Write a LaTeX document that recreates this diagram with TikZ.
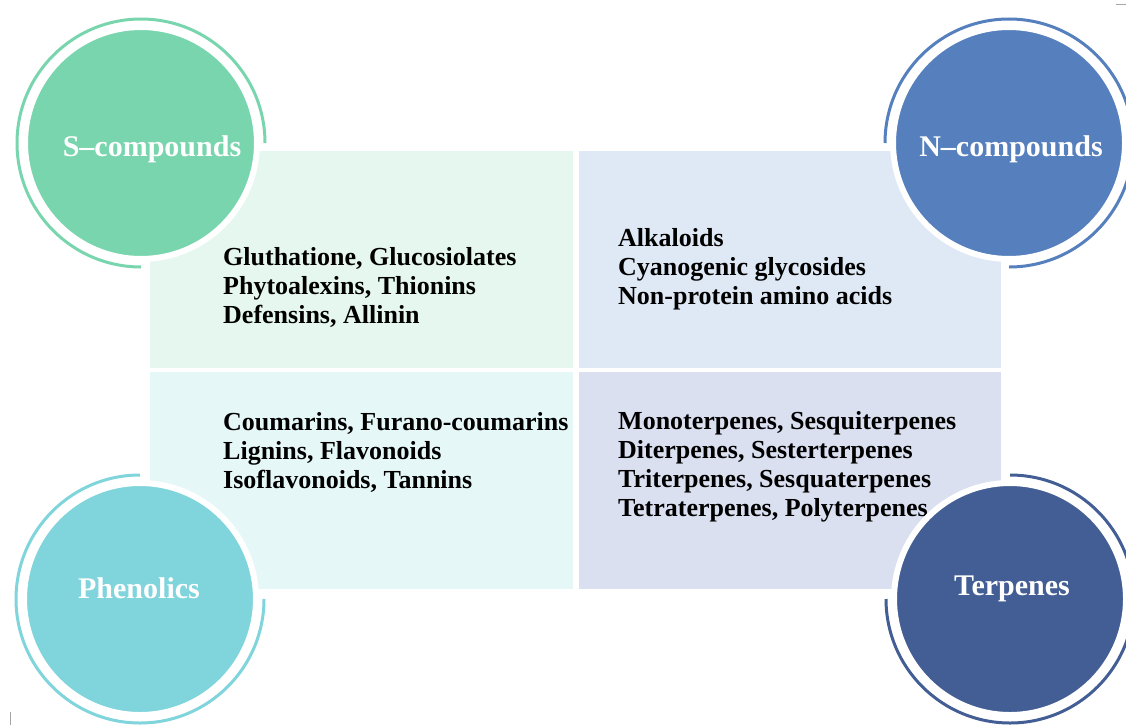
\documentclass[tikz,border=0pt]{standalone}
\usepackage{fontspec}
\setmainfont{Liberation Serif}
\usetikzlibrary{positioning}
\definecolor{sgreen}{RGB}{121,213,174}
\definecolor{nblue}{RGB}{85,127,189}
\definecolor{pcyan}{RGB}{128,212,220}
\definecolor{tblue}{RGB}{67,94,148}
\definecolor{sbg}{RGB}{230,247,239}
\definecolor{nbg}{RGB}{223,232,245}
\definecolor{pbg}{RGB}{230,247,248}
\definecolor{tbg}{RGB}{219,224,240}
\tikzset{
  box/.style={anchor=north west, inner sep=0pt, minimum width=423pt, minimum height=217pt},
  list/.style={anchor=west, inner sep=0pt, align=left, font=\bfseries\fontsize{26}{29}\selectfont},
  disc/.style={circle, draw=white, line width=6pt, inner sep=0pt, minimum size=232pt},
  ring/.style={line width=3pt},
  title/.style={inner sep=0pt, text=white, font=\bfseries\fontsize{30}{34}\selectfont}
}

\begin{document}
\begin{tikzpicture}[x=1pt,y=-1pt]
	\useasboundingbox (0,0) rectangle (1126,725);

	% four boxes
	\node [box, fill=sbg] (sbox) at (150,151) {};
	\node [box, fill=nbg, minimum width=422pt] (nbox) at (579,151) {};
	\node [box, fill=pbg] (pbox) at (150,372) {};
	\node [box, fill=tbg, minimum width=422pt] (tbox) at (579,372) {};

	\node [list] (slist) at (223,287) {Gluthatione, Glucosiolates\\Phytoalexins, Thionins\\Defensins, Allinin};
	\node [list] (nlist) at (618,269) {Alkaloids\\Cyanogenic glycosides\\Non-protein amino acids};
	\node [list] (plist) at (223,452) {Coumarins, Furano-coumarins\\Lignins, Flavonoids\\Isoflavonoids, Tannins};
	\node [list] (tlist) at (618,466.5) {Monoterpenes, Sesquiterpenes\\Diterpenes, Sesterterpenes\\Triterpenes, Sesquaterpenes\\Tetraterpenes, Polyterpenes};

	% circles with open rings
	\node [disc, fill=sgreen] (scirc) at (141,143) {};
	\node [disc, fill=nblue] (ncirc) at (1009,143) {};
	\node [disc, fill=pcyan] (pcirc) at (140,599) {};
	\node [disc, fill=tblue] (tcirc) at (1010,599) {};

	\draw [ring, sgreen] ([shift={(0:124pt)}]scirc.center) arc [start angle=0, end angle=270, radius=124pt];
	\draw [ring, nblue] ([shift={(180:124pt)}]ncirc.center) arc [start angle=180, end angle=-90, radius=124pt];
	\draw [ring, pcyan] ([shift={(90:124pt)}]pcirc.center) arc [start angle=90, end angle=360, radius=124pt];
	\draw [ring, tblue] ([shift={(90:124pt)}]tcirc.center) arc [start angle=90, end angle=-180, radius=124pt];

	\node [title] (stitle) at (152,149) {S–compounds};
	\node [title] (ntitle) at (1011,149) {N–compounds};
	\node [title] (ptitle) at (139,588) {Phenolics};
	\node [title] (ttitle) at (1012,589) {Terpenes};

	% stray marks
	\draw [gray!70, line width=1pt] (1116,5) -- (1126,5);
	\draw [gray!70, line width=1pt] (10,712) -- (10,725);
\end{tikzpicture}
\end{document}
